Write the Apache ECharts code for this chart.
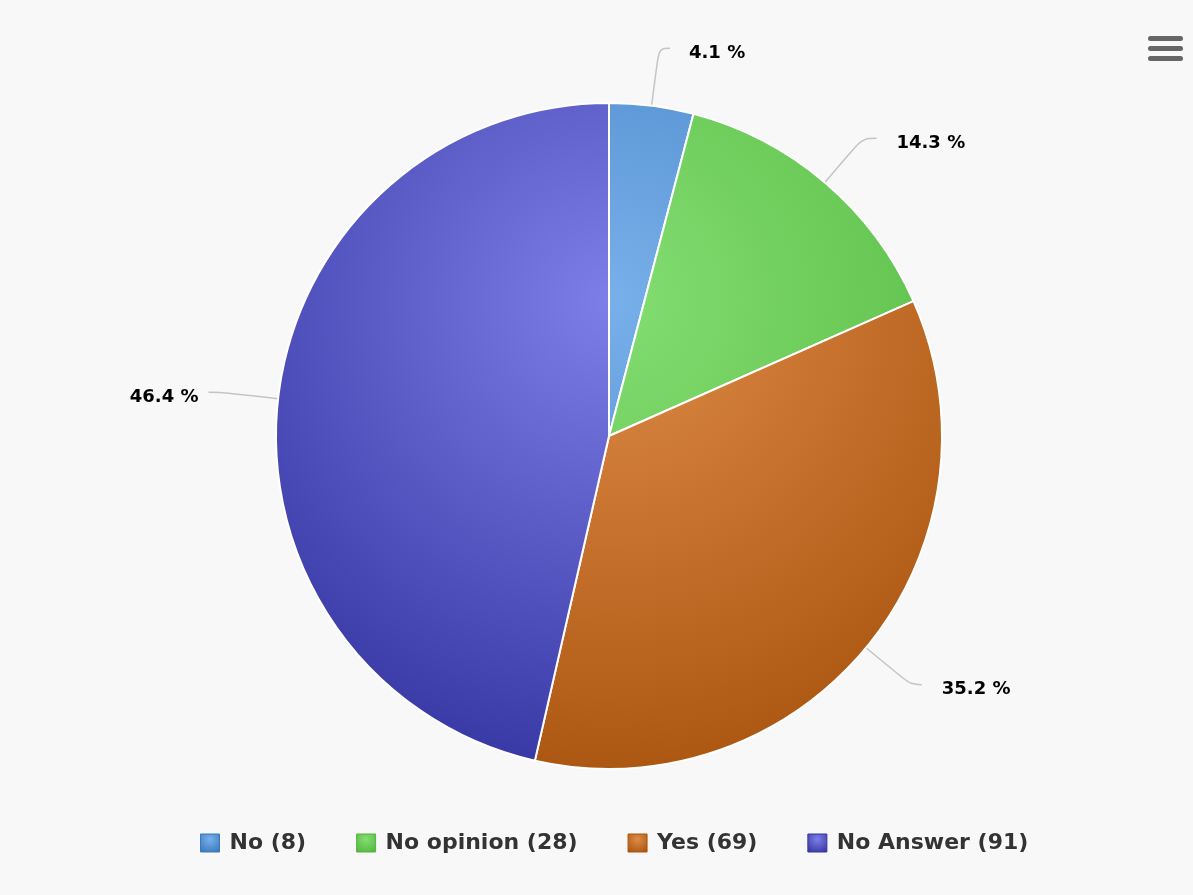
<!DOCTYPE html>
<html>
<head>
<meta charset="utf-8">
<script src="https://cdn.jsdelivr.net/npm/echarts@6/dist/echarts.min.js"></script>
<style>
html,body{margin:0;padding:0;background:#f8f8f8;}
#chart{width:1193px;height:895px;}
</style>
</head>
<body>
<div id="chart"></div>
<script>
const categories = ['No', 'No opinion', 'Yes', 'No Answer'];
const counts = [8, 28, 69, 91];
const lightColors = ['#78b0ea', '#84de72', '#e08c4a', '#7e7ee8'];
const darkColors = ['#3a78bc', '#52b63e', '#a9540e', '#3535a2'];

const total = counts.reduce((a, b) => a + b, 0);
const chart = echarts.init(document.getElementById('chart'));
const FONT = '"DejaVu Sans", sans-serif';
const labelLen2 = [11, 14, 11, 12];
const labelGap = [19, 20, 20, 10];

function sliceGradient(i) {
  return {
    type: 'radial', x: 609, y: 300, r: 500, global: true,
    colorStops: [{ offset: 0, color: lightColors[i] }, { offset: 1, color: darkColors[i] }]
  };
}
function iconGradient(i) {
  return {
    type: 'radial', x: 0.5, y: 0.3, r: 0.8,
    colorStops: [{ offset: 0, color: lightColors[i] }, { offset: 1, color: darkColors[i] }]
  };
}

chart.setOption({
  backgroundColor: '#f8f8f8',
  animation: false,
  legend: {
    bottom: 36,
    left: 195,
    icon: 'rect',
    itemWidth: 19,
    itemHeight: 18,
    itemGap: 50,
    textStyle: { fontFamily: FONT, fontWeight: 'bold', fontSize: 22, color: '#333', padding: [0, 0, 0, 5] },
    data: categories.map((c, i) => ({ name: c, itemStyle: { color: iconGradient(i), borderColor: darkColors[i], borderWidth: 1 } })),
    formatter: function (name) {
      const i = categories.indexOf(name);
      return name + ' (' + counts[i] + ')';
    }
  },
  graphic: [
    { type: 'rect', shape: { x: 1148, y: 36, width: 35, height: 5, r: 2.5 }, style: { fill: '#666' } },
    { type: 'rect', shape: { x: 1148, y: 46, width: 35, height: 5, r: 2.5 }, style: { fill: '#666' } },
    { type: 'rect', shape: { x: 1148, y: 56, width: 35, height: 5, r: 2.5 }, style: { fill: '#666' } }
  ],
  series: [{
    type: 'pie',
    center: [609, 436],
    radius: [0, 333],
    startAngle: 90,
    clockwise: true,
    avoidLabelOverlap: false,
    data: categories.map((c, i) => ({
      name: c, value: counts[i],
      itemStyle: { color: sliceGradient(i) },
      label: { distanceToLabelLine: labelGap[i] },
      labelLine: { length2: labelLen2[i] }
    })),
    itemStyle: { borderColor: '#ffffff', borderWidth: 2 },
    label: {
      show: true,
      formatter: function (p) { return '{s| }\n{t|' + (p.value / total * 100).toFixed(1) + ' %}'; },
      rich: {
        s: { lineHeight: 10, fontSize: 8 },
        t: { fontFamily: FONT, fontWeight: 'bold', fontSize: 18, color: '#000', lineHeight: 20 }
      }
    },
    labelLine: {
      show: true, length: 58, length2: 12, smooth: 0.4,
      lineStyle: { color: '#c4c4c4', width: 1.5 }
    },
    emphasis: { disabled: true }
  }]
});
</script>
</body>
</html>
